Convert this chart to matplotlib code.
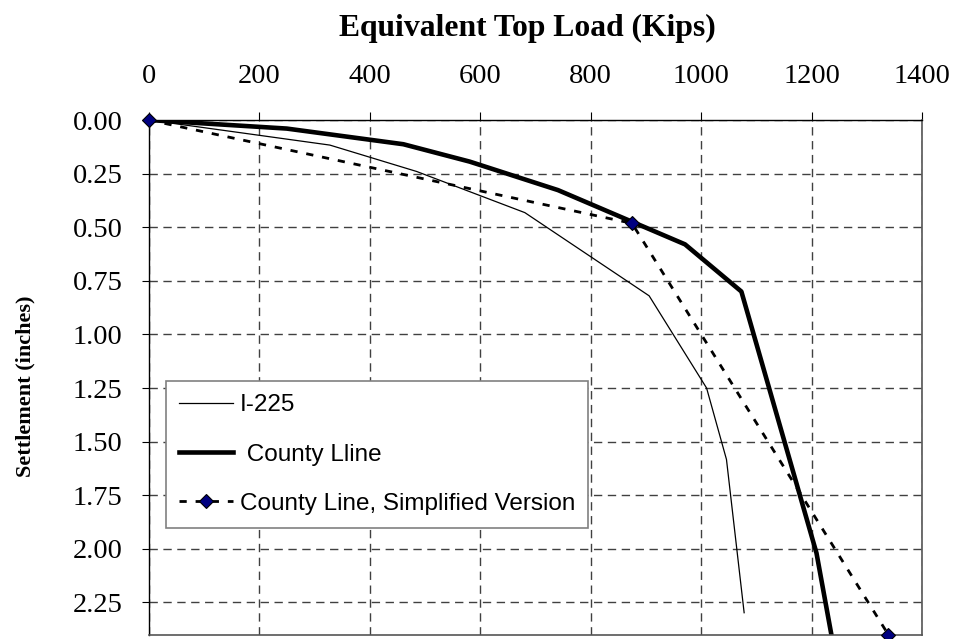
import matplotlib
matplotlib.use("Agg")
import matplotlib.pyplot as plt

# load (kips) vs settlement (inches)
load_i225 = [0, 328, 485, 681, 906, 1010, 1046, 1078]
settle_i225 = [0, 0.117, 0.24, 0.432, 0.82, 1.25, 1.583, 2.298]

load_county = [0, 250, 461, 581, 741, 971, 1073, 1209, 1243]
settle_county = [0, 0.04, 0.113, 0.194, 0.327, 0.58, 0.80, 2.02, 2.50]

load_simple = [0, 875, 1339]
settle_simple = [0, 0.482, 2.40]

x_ticks = [0, 200, 400, 600, 800, 1000, 1200, 1400]
y_ticks = [0.00, 0.25, 0.50, 0.75, 1.00, 1.25, 1.50, 1.75, 2.00, 2.25]

serif = "Liberation Serif"
sans = "Liberation Sans"

fig = plt.figure(figsize=(9.57, 6.39), dpi=100)
ax = fig.add_axes([148.7 / 957, 1 - 634.6 / 639, 773.3 / 957, 514.6 / 639])

ax.plot(load_i225, settle_i225, color="black", lw=0.9, label="I-225")
ax.plot(load_county, settle_county, color="black", lw=3.3, label=" County Lline")
ax.plot(load_simple, settle_simple, color="black", lw=2.0, ls=(0, (2.6, 3.2)),
        marker="D", markersize=7, markerfacecolor="#000080",
        markeredgecolor="black", markeredgewidth=0.8, clip_on=False,
        label="County Line, Simplified Version", zorder=5)

ax.set_xlim(0, 1400)
ax.set_ylim(2.4, 0)
ax.set_xticks(x_ticks)
ax.set_yticks(y_ticks)
ax.set_yticklabels([f"{v:.2f}" for v in y_ticks])
ax.xaxis.tick_top()
ax.tick_params(axis="x", direction="out", length=6, width=0.8, pad=16,
               labelsize=20.5, labelfontfamily=serif)
ax.tick_params(axis="y", direction="out", length=5, width=0.8, pad=14,
               labelsize=20.5, labelfontfamily=serif)
ax.tick_params(bottom=False, right=False)

ax.grid(True, color="#404040", lw=1, ls=(0, (6, 4)))
ax.set_axisbelow(True)

for side in ["top", "left"]:
    ax.spines[side].set_color("black")
    ax.spines[side].set_linewidth(1.0)
for side in ["right", "bottom"]:
    ax.spines[side].set_color("#555555")
    ax.spines[side].set_linewidth(1.2)

ax.set_xlabel("Equivalent Top Load (Kips)", fontsize=22.8, fontweight="bold",
              family=serif)
ax.xaxis.set_label_position("top")
ax.xaxis.set_label_coords(0.49, 1.177)
ax.xaxis.label.set_va("center")
ax.set_ylabel("Settlement (inches)", fontsize=16, fontweight="bold", family=serif)
ax.yaxis.set_label_coords(-0.159, 0.483)
ax.yaxis.label.set_va("center")

leg = ax.legend(loc="upper left", bbox_to_anchor=(0.0224, 0.493),
                borderaxespad=0, prop={"family": sans, "size": 17.5},
                frameon=True, fancybox=False, edgecolor="#808080",
                framealpha=1, handlelength=2.2, handletextpad=0.3,
                labelspacing=1.13, borderpad=0.54)
leg.get_frame().set_linewidth(1.2)

fig.savefig("out.png", dpi=100)
